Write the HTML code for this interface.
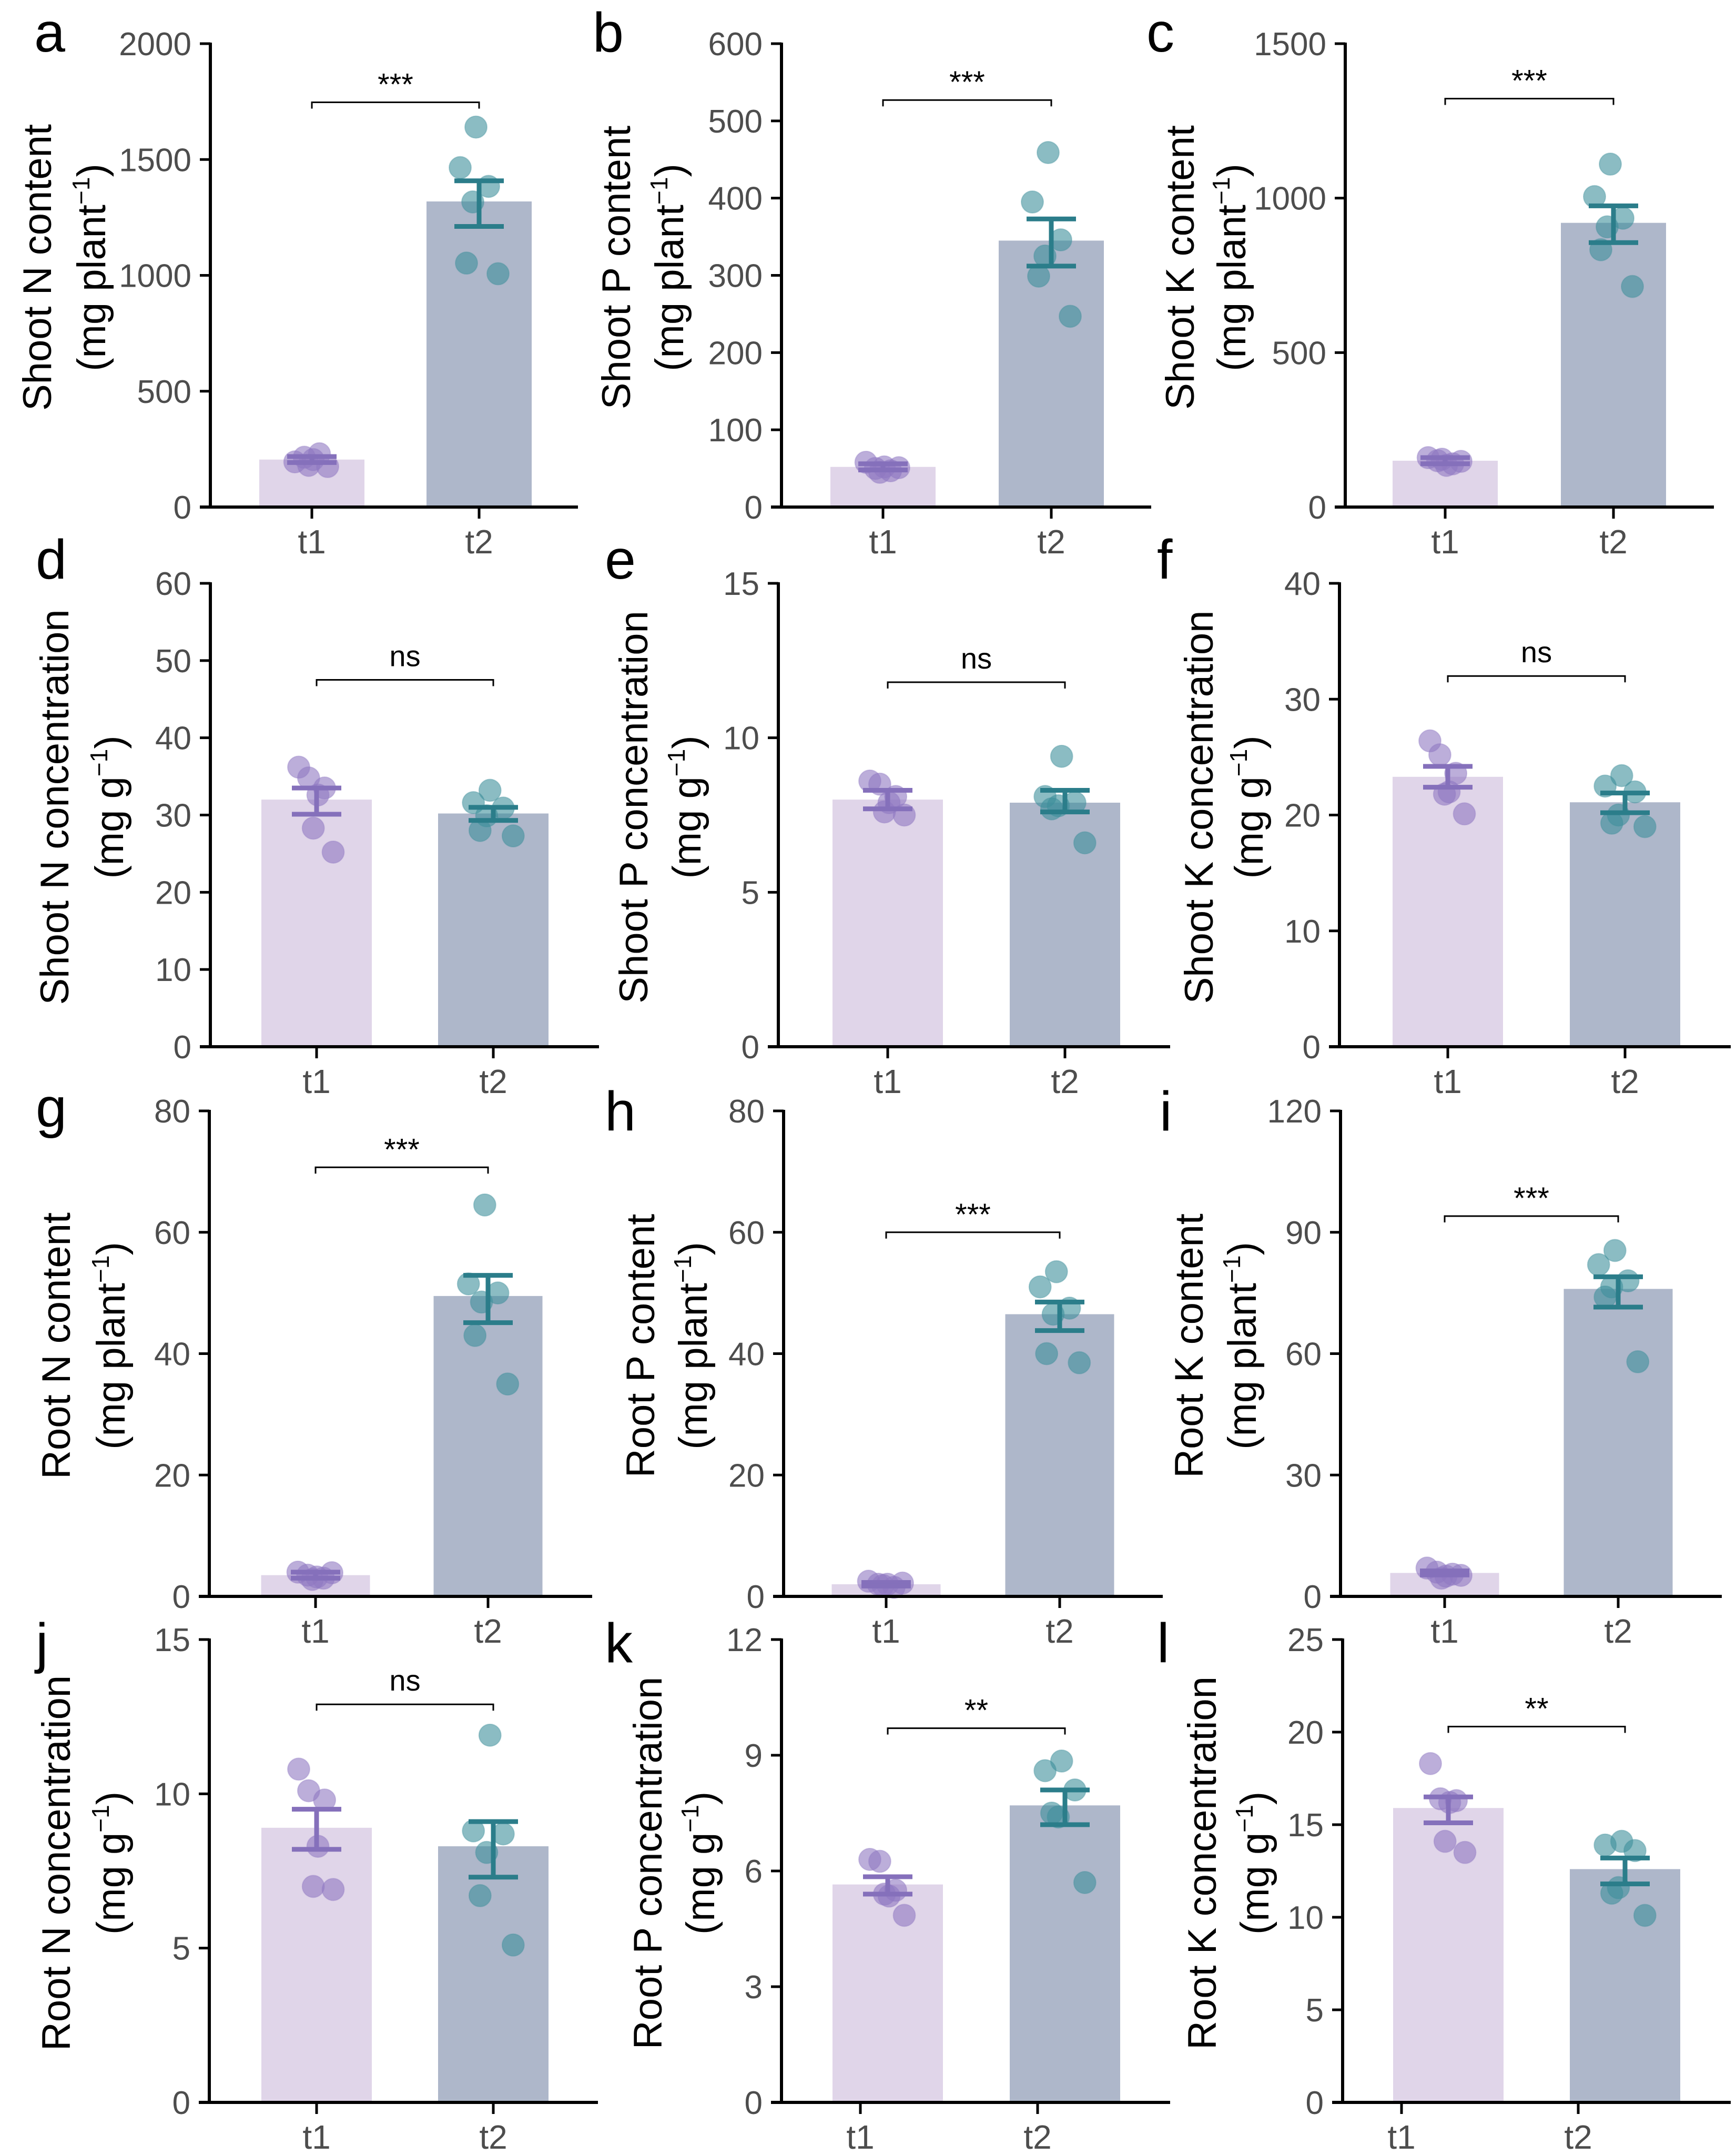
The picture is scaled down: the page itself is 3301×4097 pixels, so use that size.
<!DOCTYPE html>
<html><head><meta charset="utf-8"><style>
html,body{margin:0;padding:0;background:#fff;}
svg{display:block;font-family:"Liberation Sans",Arial,sans-serif;}
</style></head><body>
<svg id="fig" width="3301" height="4097" viewBox="0 0 3301 4097" xmlns="http://www.w3.org/2000/svg"></svg>
<script>
// ---- data ----
const groups = ["t1","t2"];
const aMean=[205,1319], aUp=[218,1408], aLo=[192,1211], aP1=[195,215,230,205,180,175], aP2=[1640,1465,1384,1317,1053,1007];
const bMean=[52,345], bUp=[56,373], bLo=[48,312], bP1=[58,50,47,52,45,51], bP2=[459,395,346,325,299,247];
const cMean=[150,920], cUp=[160,975], cLo=[140,856], cP1=[160,150,140,135,155,148], cP2=[1110,1005,935,907,833,714];
const dMean=[32.0,30.2], dUp=[33.5,31.0], dLo=[30.1,29.3], dP1=[36.2,34.8,33.5,32.6,28.3,25.2], dP2=[33.2,31.6,30.9,29.9,28.0,27.3];
const eMean=[8.0,7.9], eUp=[8.3,8.3], eLo=[7.7,7.6], eP1=[8.6,8.5,8.1,7.9,7.6,7.5], eP2=[9.4,8.1,7.9,7.8,7.7,6.6];
const fMean=[23.3,21.1], fUp=[24.2,21.9], fLo=[22.4,20.2], fP1=[26.4,25.2,23.6,22.0,21.8,20.1], fP2=[23.4,22.5,22.0,20.0,19.3,19.0];
const gMean=[3.5,49.5], gUp=[4.0,52.9], gLo=[3.0,45.1], gP1=[4.0,3.5,3.0,3.2,2.8,3.9], gP2=[64.5,51.5,50.0,48.5,43.0,35.0];
const hMean=[2.0,46.5], hUp=[2.3,48.5], hLo=[1.7,43.8], hP1=[2.5,2.0,1.5,2.0,1.8,2.2], hP2=[53.5,51.0,47.5,46.5,40.0,38.5];
const iMean=[5.8,76.0], iUp=[6.3,79.0], iLo=[5.3,71.5], iP1=[7.0,6.0,5.5,5.0,4.5,5.2], iP2=[85.5,82.0,78.0,76.5,74.0,58.0];
const jMean=[8.9,8.3], jUp=[9.5,9.1], jLo=[8.2,7.3], jP1=[10.8,10.1,9.8,8.3,7.0,6.9], jP2=[11.9,8.8,8.7,8.1,6.7,5.1];
const kMean=[5.65,7.7], kUp=[5.85,8.1], kLo=[5.4,7.2], kP1=[6.3,6.25,5.5,5.35,5.4,4.85], kP2=[8.85,8.6,8.1,7.4,7.5,5.7];
const lMean=[15.9,12.6], lUp=[16.5,13.2], lLo=[15.1,11.8], lP1=[18.3,16.4,16.3,16.2,14.1,13.5], lP2=[14.1,13.9,13.6,11.6,11.3,10.1];
const yMax=[2000,600,1500,60,15,40,80,80,120,15,12,25];
const yStep=[500,100,500,10,5,10,20,20,30,5,3,5];
const sigLabel=["***","***","***","ns","ns","ns","***","***","***","ns","**","**"];
const sigValue=[1747,527,1322,47.5,11.8,32,70.7,60,94,12.9,9.7,20.3];
const titles1=["Shoot N content","Shoot P content","Shoot K content","Shoot N concentration","Shoot P concentration","Shoot K concentration","Root N content","Root P content","Root K content","Root N concentration","Root P concentration","Root K concentration"];
const units=["mg plant","mg plant","mg plant","mg g","mg g","mg g","mg plant","mg plant","mg plant","mg g","mg g","mg g"];
const letters=["a","b","c","d","e","f","g","h","i","j","k","l"];

// ---- layout ----
const panels=[
 {m:aMean,u:aUp,l:aLo,p1:aP1,p2:aP2,ax:400,top:83,y0:964,c:[593,911],xr:1099,bw:200,ts:0,t:[-330,-227],lx:65,ly:98},
 {m:bMean,u:bUp,l:bLo,p1:bP1,p2:bP2,ax:1486,top:83,y0:964,c:[1679,1999],xr:2189,bw:200,ts:0,t:[-315,-214],lx:1127,ly:98},
 {m:cMean,u:cUp,l:cLo,p1:cP1,p2:cP2,ax:2558,top:83,y0:964,c:[2748,3068],xr:3259,bw:200,ts:0,t:[-315,-217],lx:2180,ly:98},
 {m:dMean,u:dUp,l:dLo,p1:dP1,p2:dP2,ax:400,top:1109,y0:1990,c:[602,938],xr:1139,bw:210,ts:0,t:[-297,-193],lx:68,ly:1100},
 {m:eMean,u:eUp,l:eLo,p1:eP1,p2:eP2,ax:1480,top:1109,y0:1990,c:[1688,2025],xr:2225,bw:210,ts:0,t:[-276,-175],lx:1150,ly:1100},
 {m:fMean,u:fUp,l:fLo,p1:fP1,p2:fP2,ax:2547,top:1109,y0:1990,c:[2753,3090],xr:3291,bw:210,ts:0,t:[-268,-173],lx:2200,ly:1100},
 {m:gMean,u:gUp,l:gLo,p1:gP1,p2:gP2,ax:398,top:2112,y0:3035,c:[600,928],xr:1126,bw:207,ts:0,t:[-292,-188],lx:68,ly:2142},
 {m:hMean,u:hUp,l:hLo,p1:hP1,p2:hP2,ax:1490,top:2112,y0:3035,c:[1685,2015],xr:2211,bw:207,ts:0,t:[-273,-173],lx:1150,ly:2149},
 {m:iMean,u:iUp,l:iLo,p1:iP1,p2:iP2,ax:2549,top:2112,y0:3035,c:[2747,3077],xr:3274,bw:207,ts:0,t:[-289,-188],lx:2205,ly:2149},
 {m:jMean,u:jUp,l:jLo,p1:jP1,p2:jP2,ax:398,top:3117,y0:3997,c:[602,938],xr:1137,bw:210,ts:0,t:[-292,-188],lx:68,ly:3160},
 {m:kMean,u:kUp,l:kLo,p1:kP1,p2:kP2,ax:1486,top:3117,y0:3997,c:[1688,2025],xr:2225,bw:210,ts:-52,t:[-255,-155],lx:1150,ly:3160},
 {m:lMean,u:lUp,l:lLo,p1:lP1,p2:lP2,ax:2553,top:3117,y0:3997,c:[2754,3090],xr:3291,bw:210,ts:-89,t:[-268,-168],lx:2200,ly:3160}
];
const jit1=[-0.27,-0.12,0.12,0.02,-0.05,0.25];
const jit2=[-0.05,-0.3,0.15,-0.1,-0.2,0.3];
const barFill=["#e0d5e9","#aeb7ca"], ptFill=["#8f78c2","#3e8f9b"], errCol=["#8570bb","#2b7d8a"];

const NS="http://www.w3.org/2000/svg";
const svg=document.getElementById("fig");
function mk(tag,attrs,parent){const e=document.createElementNS(NS,tag);for(const k in attrs)e.setAttribute(k,attrs[k]);(parent||svg).appendChild(e);return e;}

panels.forEach((P,pi)=>{
  const g=mk("g",{});
  
  
  const y=v=>P.y0-(v/yMax[pi])*(P.y0-P.top);
  for(let k=0;k<2;k++){
    const r=mk("rect",{x:P.c[k]-P.bw/2,y:y(P.m[k]),width:P.bw,height:P.y0-y(P.m[k]),fill:barFill[k]},g);
    
    
  }
  [P.p1,P.p2].forEach((pts,k)=>{
    const jit=k?jit2:jit1;
    pts.forEach((v,i)=>{
      const c=mk("circle",{cx:P.c[k]+jit[i]*P.bw*0.6,cy:y(v),r:21,fill:ptFill[k],"fill-opacity":0.6,stroke:ptFill[k],"stroke-opacity":0.35,"stroke-width":2},g);
      
      
    });
  });
  for(let k=0;k<2;k++){
    const eg=mk("g",{stroke:errCol[k],"stroke-width":9,fill:"none"},g);
    
    
    const cx=P.c[k];
    mk("line",{x1:cx,x2:cx,y1:y(P.u[k]),y2:y(P.l[k])},eg);
    mk("line",{x1:cx-47,x2:cx+47,y1:y(P.u[k]),y2:y(P.u[k])},eg);
    mk("line",{x1:cx-47,x2:cx+47,y1:y(P.l[k]),y2:y(P.l[k])},eg);
  }
  const yl=mk("line",{x1:P.ax,x2:P.ax,y1:P.top-2,y2:P.y0+2,stroke:"#000","stroke-width":6},g);
  
  
  const xl=mk("line",{x1:P.ax-20,x2:P.xr,y1:P.y0,y2:P.y0,stroke:"#000","stroke-width":6},g);
  
  
  for(let v=0;v<=yMax[pi]+1e-9;v+=yStep[pi]){
    mk("line",{x1:P.ax-20,x2:P.ax,y1:y(v),y2:y(v),stroke:"#000","stroke-width":5},g);
    const t=mk("text",{x:P.ax-36,y:y(v)+22,"text-anchor":"end","font-size":62,fill:"#4d4d4d"},g);
    t.textContent=String(v);
    
    
  }
  for(let k=0;k<2;k++){
    const tx=P.c[k]+P.ts;
    mk("line",{x1:tx,x2:tx,y1:P.y0,y2:P.y0+22,stroke:"#000","stroke-width":5},g);
    const t=mk("text",{x:tx,y:P.y0+88,"text-anchor":"middle","font-size":64,fill:"#4d4d4d"},g);
    t.textContent=groups[k];
    
    
  }
  const sy=y(sigValue[pi]);
  const br=mk("path",{d:`M${P.c[0]},${sy+12} V${sy} H${P.c[1]} V${sy+12}`,stroke:"#000","stroke-width":3,fill:"none"},g);
  
  
  const st=mk("text",{x:(P.c[0]+P.c[1])/2,y:sigLabel[pi]==="ns"?sy-26:sy-14,"text-anchor":"middle","font-size":sigLabel[pi]==="ns"?56:58,fill:"#000"},g);
  st.textContent=sigLabel[pi];
  
  
  const cy=(P.top+P.y0)/2-15;
  const t1=mk("text",{x:0,y:0,"text-anchor":"middle","font-size":76,fill:"#000",transform:`translate(${P.ax+P.t[0]+27},${cy}) rotate(-90)`},g);
  t1.textContent=titles1[pi];
  
  
  const t2=mk("text",{x:0,y:0,"text-anchor":"middle","font-size":76,fill:"#000",transform:`translate(${P.ax+P.t[1]+27},${cy}) rotate(-90)`},g);
  
  
  const s1=mk("tspan",{},t2); s1.textContent="("+units[pi];
  const s2=mk("tspan",{"font-size":46,dy:-30},t2); s2.textContent="−1";
  const s3=mk("tspan",{dy:30},t2); s3.textContent=")";
  const L=mk("text",{x:P.lx,y:P.ly,"font-size":106,fill:"#000"},g);
  L.textContent=letters[pi];
  
  
});
</script>
</body></html>
